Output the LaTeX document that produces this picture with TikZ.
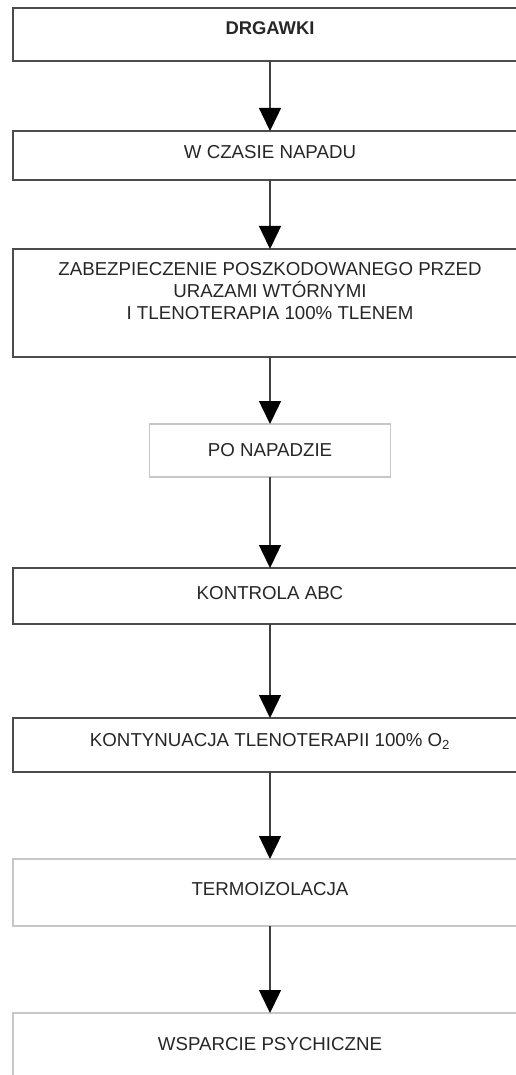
\documentclass[tikz,border=0pt]{standalone}
\usepackage{fontspec}
\setmainfont{Liberation Sans}
\usepackage{tikz}
\usetikzlibrary{positioning,arrows.meta}

\begin{document}
\begin{tikzpicture}[
		x=1pt, y=1pt,
		node distance=70pt,
		box/.style={
			draw=black!70,
			line width=1.4pt,
			outer sep=0pt,
			minimum width=514pt,
			text height=14pt,
			text=black!85,
			font=\fontsize{18.7pt}{22pt}\selectfont
		},
		lite/.style={box, draw=black!22, line width=1.2pt},
		arr/.style={draw=black!75, line width=1.4pt,
			-{Triangle[width=22pt,length=23pt,color=black]}}
		]
		
		\useasboundingbox (0,0) rectangle (516,-1075);
		\clip (0,0) rectangle (516,-1075);
		
		\node (drg) at (270,-34.5) [box, minimum height=53pt, text depth=13.6pt, font=\fontsize{18.4pt}{22pt}\selectfont\bfseries] {DRGAWKI};
		\node (czas) [box, below=70pt of drg, minimum height=49pt, text depth=7.6pt] {W CZASIE NAPADU};
		\node (zab) [box, below=69pt of czas, minimum height=108pt, align=center, text height=58pt, text depth=25.6pt] {ZABEZPIECZENIE POSZKODOWANEGO PRZED\\URAZAMI WTÓRNYMI\\I TLENOTERAPIA 100\% TLENEM};
		\node (po) [lite, below=67pt of zab, minimum width=241pt, minimum height=53pt, text depth=1.6pt] {PO NAPADZIE};
		\node (abc) [box, below=91pt of po, minimum height=56pt, text depth=6.6pt] {KONTROLA ABC};
		\node (tlen) [box, below=94pt of abc, minimum height=54pt, text depth=10.6pt] {KONTYNUACJA TLENOTERAPII 100\% O\textsubscript{2}};
		\node (termo) [lite, below=87pt of tlen, minimum height=67pt, text depth=7.6pt] {TERMOIZOLACJA};
		\node (psych) [lite, below=87pt of termo, minimum height=80pt, text depth=18.6pt] {WSPARCIE PSYCHICZNE};
		
		\draw[arr] (drg) -- (czas);
		\draw[arr] (czas) -- (zab);
		\draw[arr] (zab) -- (po);
		\draw[arr] (po) -- (abc);
		\draw[arr] (abc) -- (tlen);
		\draw[arr] (tlen) -- (termo);
		\draw[arr] (termo) -- (psych);
		
	\end{tikzpicture}
\end{document}
